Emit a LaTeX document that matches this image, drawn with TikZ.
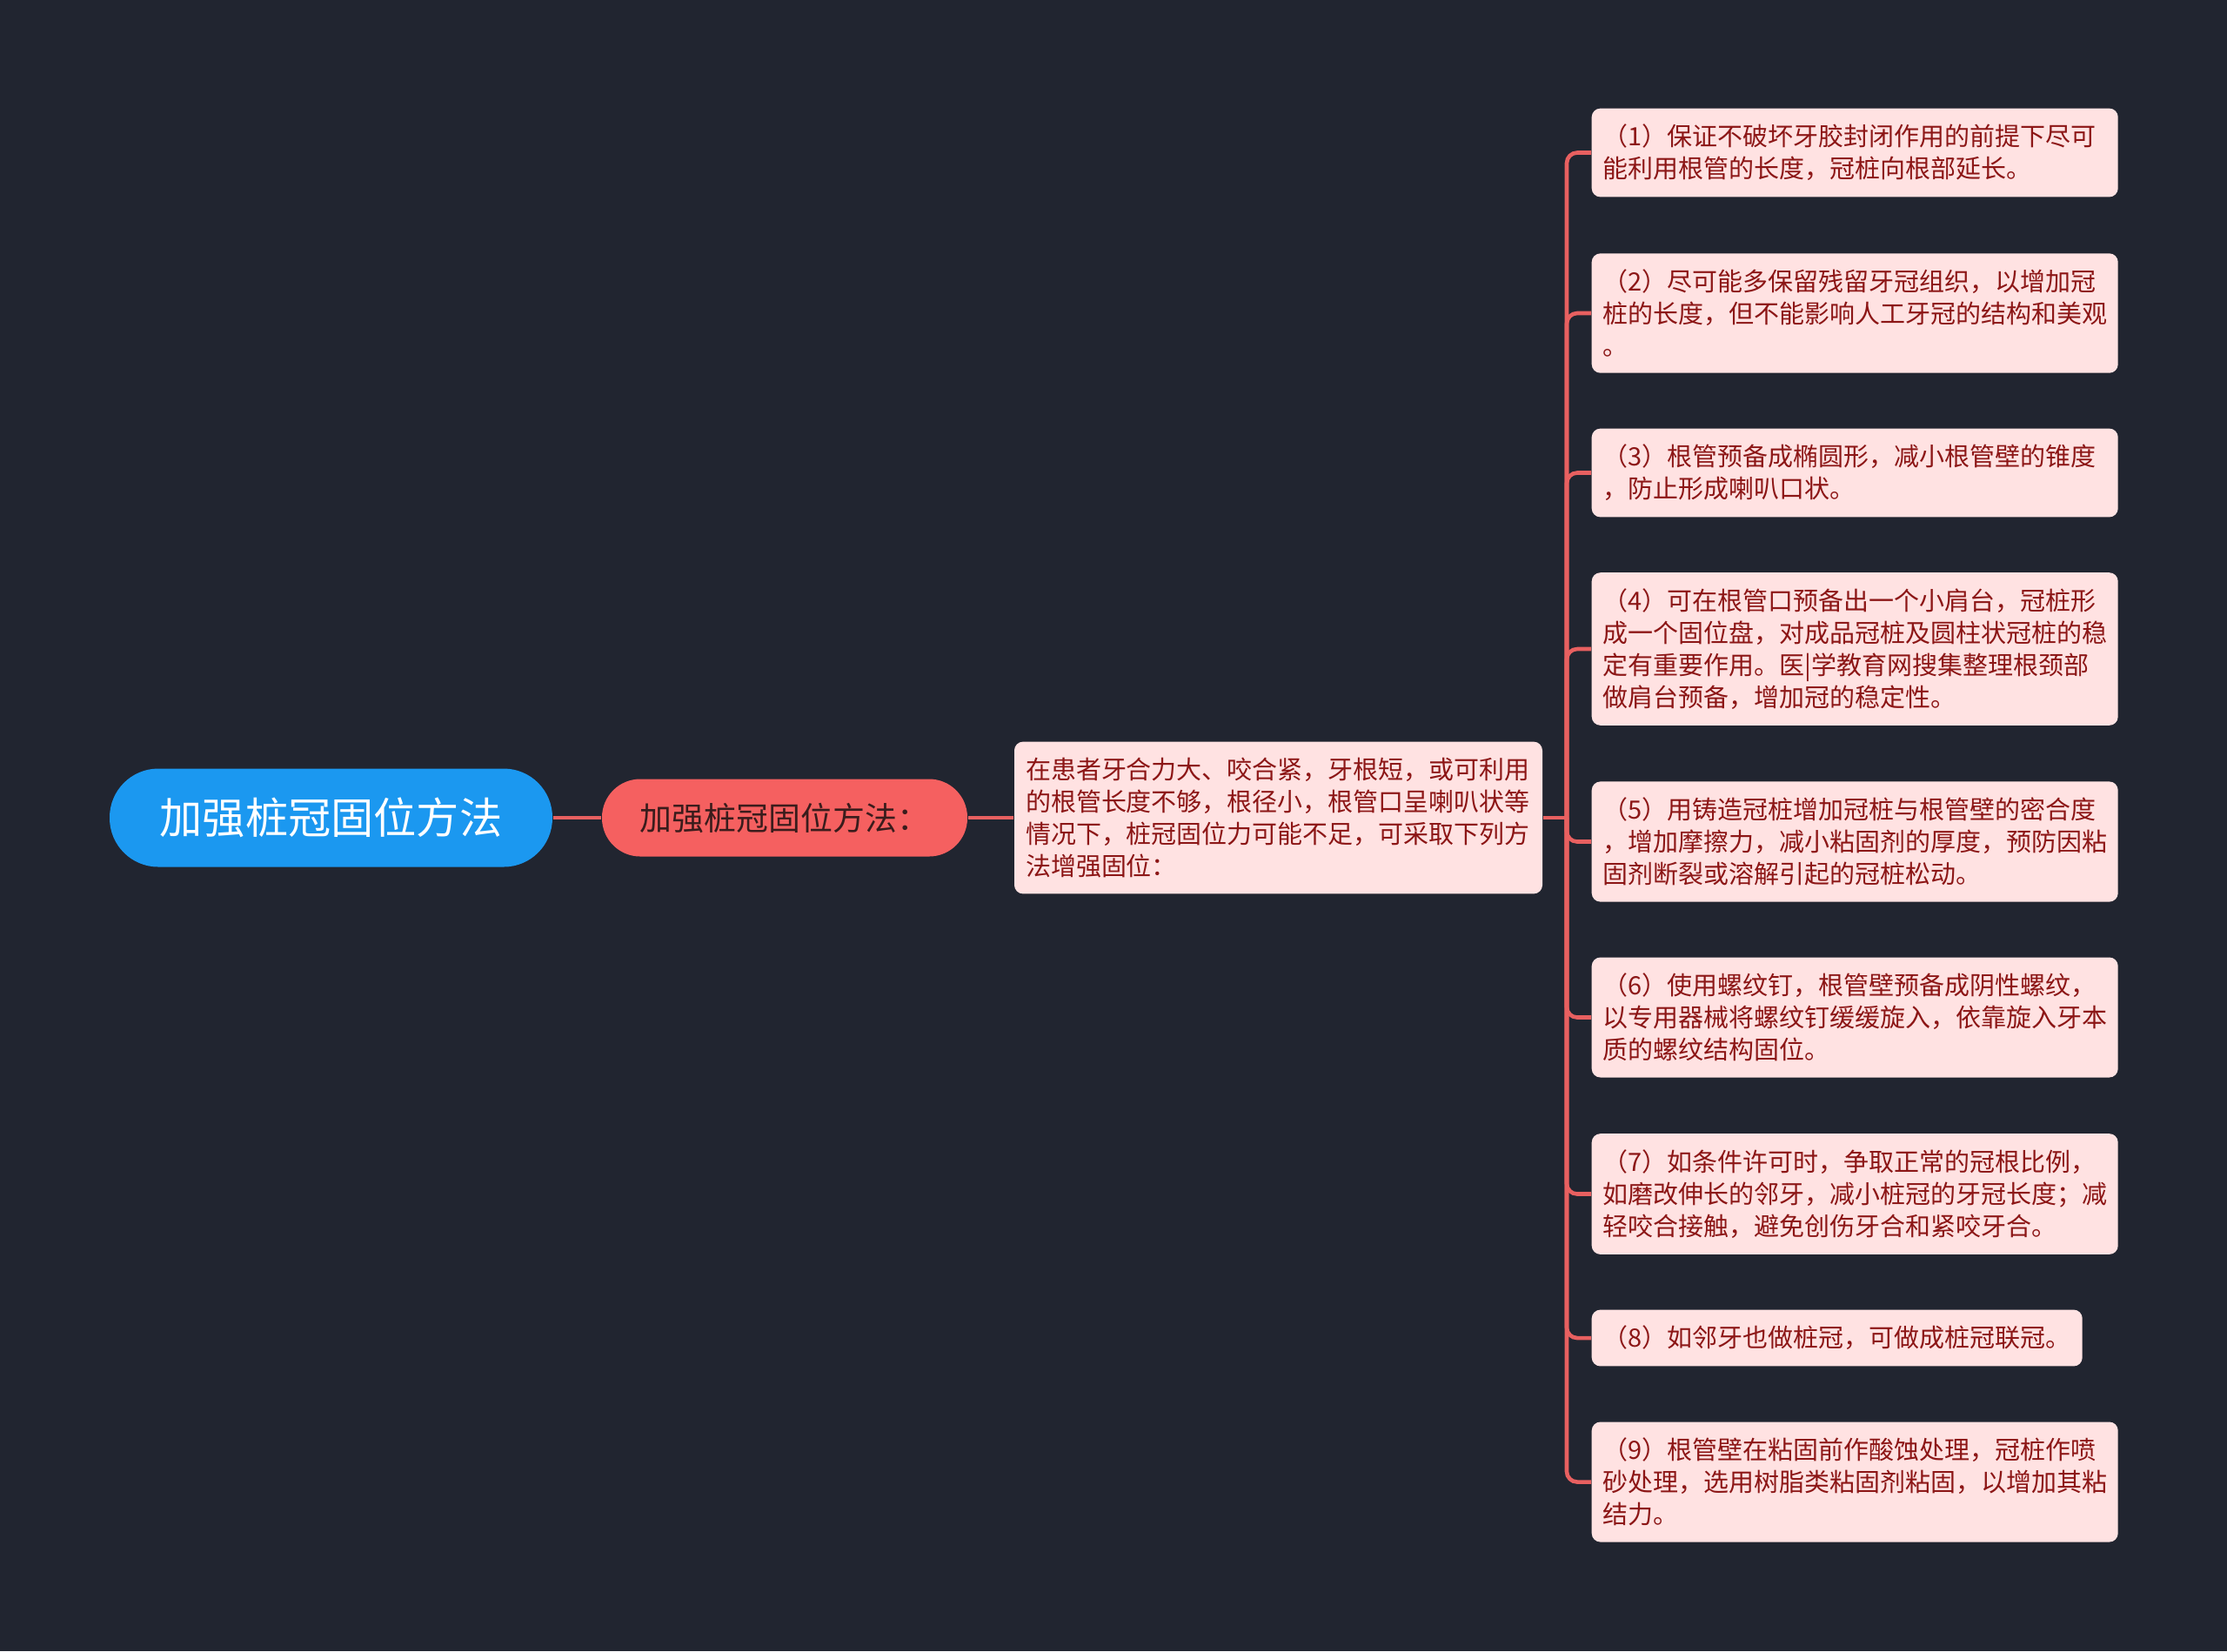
\documentclass[tikz,border=0pt]{standalone}
\usepackage{fontspec}
\newfontfamily\cjk{Noto Sans CJK SC}
\definecolor{bgdark}{RGB}{33, 37, 48}
\definecolor{rootblue}{RGB}{27, 152, 240}
\definecolor{subred}{RGB}{245, 96, 96}
\definecolor{subtext}{RGB}{58, 28, 28}
\definecolor{leafpink}{RGB}{255, 226, 226}
\definecolor{leaftext}{RGB}{140, 22, 22}
\definecolor{linkred}{RGB}{232, 96, 96}
\usepackage{tikz}

\begin{document}
\begin{tikzpicture}[
  rootbox/.style={fill=rootblue, text=white, rounded corners=0.56cm, minimum width=5.09cm, minimum height=1.13cm, font=\cjk\fontsize{14pt}{17pt}\selectfont},
  subbox/.style={fill=subred, text=subtext, rounded corners=0.44cm, minimum width=4.2cm, minimum height=0.89cm, font=\cjk\fontsize{10.5pt}{13pt}\selectfont},
  leafbox/.style={fill=leafpink, text=leaftext, rounded corners=0.1cm, align=left, inner xsep=0.13cm, inner ysep=0.185cm, font=\cjk\fontsize{8.25pt}{10.5pt}\selectfont},
  wideleaf/.style={leafbox, text width=5.79cm},
  link/.style={draw=linkred, line width=1.3pt, rounded corners=0.12cm}
]
  \fill[bgdark] (0, 0) rectangle (25.6, -18.98);
  \useasboundingbox (0, 0) rectangle (25.6, -18.98);

  % centre of the map
  \node[rootbox] (root) at (3.805, -9.40) {加强桩冠固位方法};
  \node[subbox] (method) at (9.02, -9.40) {加强桩冠固位方法：};
  \node[wideleaf, text width=5.81cm] (cause) at (14.695, -9.40) {
    在患者牙合力大、咬合紧，牙根短，或可利用\\
    的根管长度不够，根径小，根管口呈喇叭状等\\
    情况下，桩冠固位力可能不足，可采取下列方\\
    法增强固位：
  };

  % the nine methods
  \node[wideleaf, anchor=west] (way1) at (18.29, -1.755) {
    （1）保证不破坏牙胶封闭作用的前提下尽可\\
    能利用根管的长度，冠桩向根部延长。
  };
  \node[wideleaf, anchor=west] (way2) at (18.29, -3.60) {
    （2）尽可能多保留残留牙冠组织，以增加冠\\
    桩的长度，但不能影响人工牙冠的结构和美观\\
    。
  };
  \node[wideleaf, anchor=west] (way3) at (18.29, -5.435) {
    （3）根管预备成椭圆形，减小根管壁的锥度\\
    ，防止形成喇叭口状。
  };
  \node[wideleaf, anchor=west] (way4) at (18.29, -7.46) {
    （4）可在根管口预备出一个小肩台，冠桩形\\
    成一个固位盘，对成品冠桩及圆柱状冠桩的稳\\
    定有重要作用。医|学教育网搜集整理根颈部\\
    做肩台预备，增加冠的稳定性。
  };
  \node[wideleaf, anchor=west] (way5) at (18.29, -9.675) {
    （5）用铸造冠桩增加冠桩与根管壁的密合度\\
    ，增加摩擦力，减小粘固剂的厚度，预防因粘\\
    固剂断裂或溶解引起的冠桩松动。
  };
  \node[wideleaf, anchor=west] (way6) at (18.29, -11.695) {
    （6）使用螺纹钉，根管壁预备成阴性螺纹，\\
    以专用器械将螺纹钉缓缓旋入，依靠旋入牙本\\
    质的螺纹结构固位。
  };
  \node[wideleaf, anchor=west] (way7) at (18.29, -13.725) {
    （7）如条件许可时，争取正常的冠根比例，\\
    如磨改伸长的邻牙，减小桩冠的牙冠长度；减\\
    轻咬合接触，避免创伤牙合和紧咬牙合。
  };
  \node[leafbox, anchor=west] (way8) at (18.29, -15.38) {（8）如邻牙也做桩冠，可做成桩冠联冠。};
  \node[wideleaf, anchor=west] (way9) at (18.29, -17.035) {
    （9）根管壁在粘固前作酸蚀处理，冠桩作喷\\
    砂处理，选用树脂类粘固剂粘固，以增加其粘\\
    结力。
  };

  % connectors
  \coordinate (hub) at (18.01, -9.40);
  \draw[link] (root.east) -- (method.west);
  \draw[link] (method.east) -- (cause.west);
  \draw[link] (cause.east) -- (hub);
  \foreach \n in {1,...,9}
    \draw[link] (hub) |- (way\n.west);
\end{tikzpicture}
\end{document}
